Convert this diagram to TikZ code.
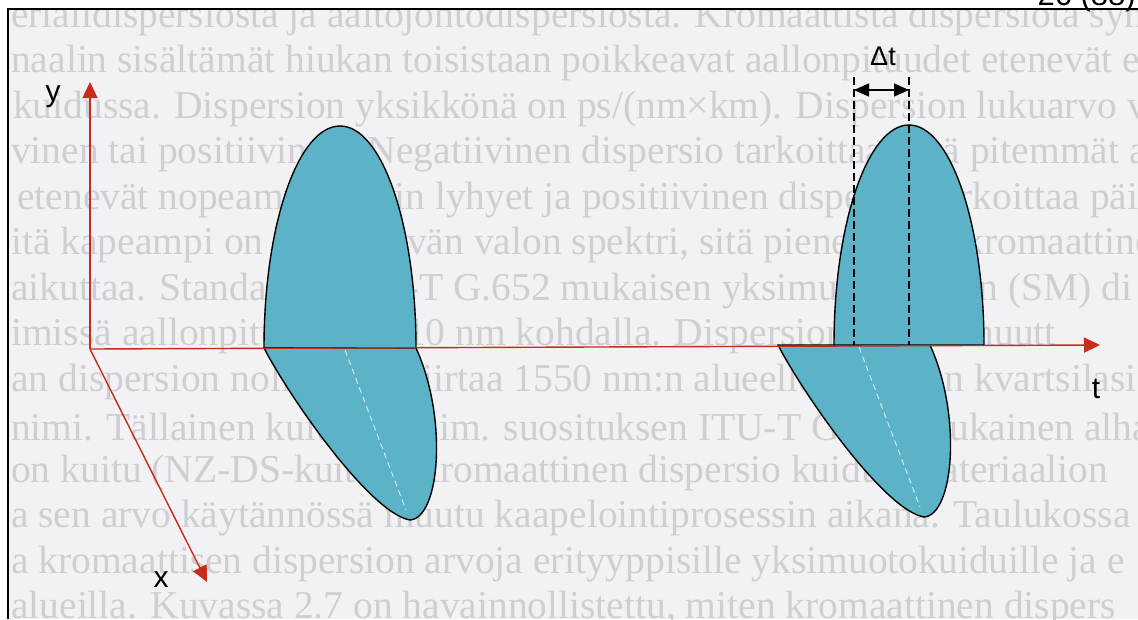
\documentclass[tikz,border=0pt]{standalone}
\usepackage{fontspec}
\setmainfont{Liberation Serif}
\newfontfamily\labelfont{Liberation Sans}
\usetikzlibrary{arrows.meta}

\definecolor{pagegray}{RGB}{242,242,244}
\definecolor{ghosttext}{RGB}{207,207,210}
\definecolor{axisred}{RGB}{200,42,30}
\definecolor{pulseblue}{RGB}{92,179,199}

\begin{document}
\begin{tikzpicture}[
    x=1pt, y=-1pt,
    axis/.style={axisred, line width=1.4pt, -{Triangle[length=16pt, width=15pt]}},
    pulse/.style={fill=pulseblue, draw=black, line width=1.4pt},
    centre line/.style={white, line width=0.9pt, dash pattern=on 6pt off 4pt, opacity=0.75},
    marker line/.style={black, line width=1.3pt, dash pattern=on 8pt off 4pt},
    ghost/.style={ghosttext, anchor=west, inner sep=0pt, font=\fontsize{39.5}{42}\selectfont},
    axis label/.style={inner sep=0pt, font=\labelfont\fontsize{30}{32}\selectfont}
]
    \useasboundingbox (0,0) rectangle (1138,619);
    \fill[white] (0,0) rectangle (1138,619);
    \fill[pagegray] (8,9) rectangle (1138,619);

    % Page text showing through
    \begin{scope}
        \clip (9,10) rectangle (1138,619);
        \node[ghost] (line0) at (11,18) {erialidispersiosta ja aaltojohtodispersiosta. Kromaattista dispersiota synty};
        \node[ghost] (line1) at (11,63) {naalin sisältämät hiukan toisistaan poikkeavat aallonpituudet etenevät e};
        \node[ghost] (line2) at (13,109) {kuidussa. Dispersion yksikkönä on ps/(nm×km). Dispersion lukuarvo vo};
        \node[ghost] (line3) at (11,154) {vinen tai positiivinen. Negatiivinen dispersio tarkoittaa, että pitemmät aa};
        \node[ghost] (line4) at (17,200) {etenevät nopeammin kuin lyhyet ja positiivinen dispersio tarkoittaa päi};
        \node[ghost] (line5) at (11,245) {itä kapeampi on lähetettävän valon spektri, sitä pienempään kromaattine};
        \node[ghost] (line6) at (11,291) {aikuttaa. Standardin ITU-T G.652 mukaisen yksimuotokuidun (SM) di};
        \node[ghost] (line7) at (11,336) {imissä aallonpituuden 1310 nm kohdalla. Dispersioprofiilia muutt};
        \node[ghost] (line8) at (11,382) {an dispersion nollakohta siirtaa 1550 nm:n alueelle, jossa on kvartsilasi};
        \node[ghost] (line9) at (11,427) {nimi. Tällainen kuitu on esim. suosituksen ITU-T G.653 mukainen alha};
        \node[ghost] (line10) at (11,473) {on kuitu (NZ-DS-kuitu). Kromaattinen dispersio kuidun materiaalion};
        \node[ghost] (line11) at (11,518) {a sen arvo käytännössä muutu kaapelointiprosessin aikana. Taulukossa 2.};
        \node[ghost] (line12) at (11,564) {a kromaattisen dispersion arvoja erityyppisille yksimuotokuiduille ja e};
        \node[ghost] (line13) at (11,609) {alueilla. Kuvassa 2.7 on havainnollistettu, miten kromaattinen dispers};
    \end{scope}

    % Frame and page number
    \draw[black, line width=2pt] (8,619) -- (8,9) -- (1138,9);
    \node[anchor=base east, inner sep=0pt, font=\labelfont\fontsize{31}{33}\selectfont] (pageno) at (1136,5) {26 (88)};

    % Left pulse
    \begin{scope}[shift={(340,348)}]
        \filldraw[pulse] (-76,0) .. controls (-76,-123) and (-42,-222) .. (0,-222)
            .. controls (42,-222) and (76,-123) .. (76,0) -- cycle;
        \filldraw[pulse] (-76,0) .. controls (-50,50) and (30,165) .. (70,172)
            .. controls (100,170) and (108,70) .. (76,0) -- cycle;
        \draw[centre line] (5,2) -- (66,162);
    \end{scope}

    % Right pulse: upper half shifted by Delta t
    \begin{scope}[shift={(854,345)}]
        \filldraw[pulse] (-76,0) .. controls (-50,50) and (30,165) .. (70,172)
            .. controls (100,170) and (108,70) .. (76,0) -- cycle;
        \draw[centre line] (5,2) -- (66,162);
    \end{scope}
    \begin{scope}[shift={(909,345)}]
        \filldraw[pulse] (-75,0) .. controls (-75,-122) and (-41,-220) .. (0,-220)
            .. controls (41,-220) and (75,-122) .. (75,0) -- cycle;
    \end{scope}

    % Delta t markers
    \coordinate (dtA top) at (854,77);
    \coordinate (dtA bottom) at (854,345);
    \coordinate (dtB top) at (909,77);
    \coordinate (dtB bottom) at (909,345);
    \coordinate (dtA arrow) at (854,90);
    \coordinate (dtB arrow) at (909,90);
    \draw[marker line] (dtA top) -- (dtA bottom);
    \draw[marker line] (dtB top) -- (dtB bottom);
    \draw[black, line width=1.4pt, {Triangle[length=15pt, width=13pt]}-{Triangle[length=15pt, width=13pt]}] (dtA arrow) -- (dtB arrow);
    \node[inner sep=0pt, font=\labelfont\fontsize{27}{29}\selectfont] (dtlabel) at (883,56) {Δt};

    % Axes
    \coordinate (O) at (90,349);
    \coordinate (yend) at (90,82);
    \coordinate (tend) at (1100,345);
    \coordinate (xend) at (207,582);
    \draw[axis] (O) -- (yend);
    \draw[axis] (O) -- (tend);
    \draw[axis] (O) -- (xend);

    % Axis labels
    \node[axis label] (ylabel) at (53,97) {y};
    \node[axis label] (tlabel) at (1096,389) {t};
    \node[axis label] (xlabel) at (161,580) {x};
\end{tikzpicture}
\end{document}
